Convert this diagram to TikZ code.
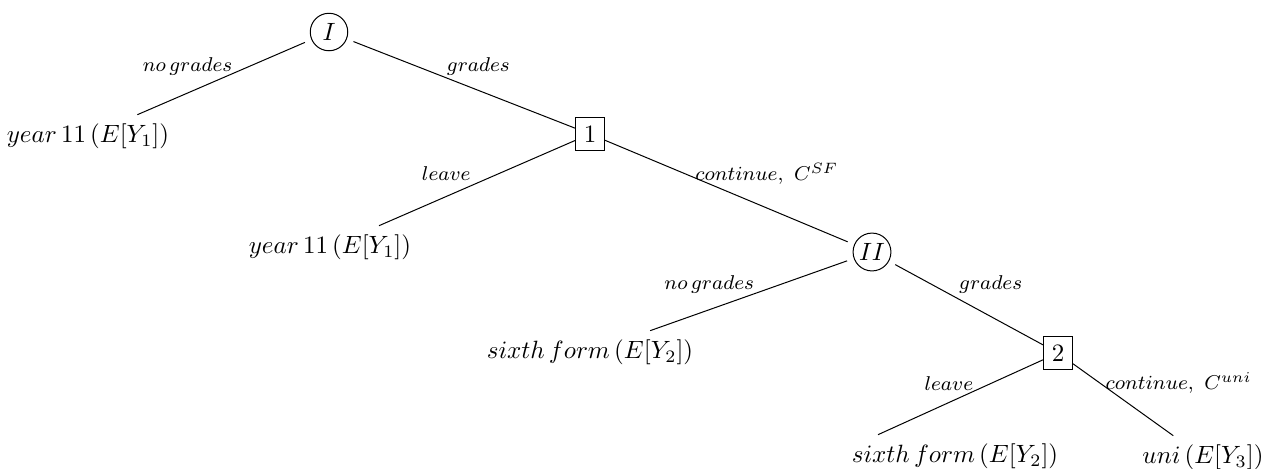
\documentclass[tikz,border=0pt]{standalone}
\begin{document}
\begin{tikzpicture}[x=0.4pt,y=-0.4pt,
        chance/.style={circle,draw,minimum size=15pt,inner sep=1pt,outer sep=3pt},
        choice/.style={rectangle,draw},
        lbl/.style={font=\footnotesize,inner sep=0pt}]
        \useasboundingbox (0,0) rectangle (1265,468);
        % decision and chance nodes
        \node[chance] (I) at (329,32) {$I$};
        \node[choice] (D1) at (590,134) {$1$};
        \node[chance] (II) at (872,252) {$II$};
        \node[choice] (D2) at (1058,353) {$2$};
        % outcomes
        \node (Y1a) at (88,136) {$year\,11\,(E[Y_1])$};
        \node (Y1b) at (330,247) {$year\,11\,(E[Y_1])$};
        \node (Y2a) at (590,352) {$sixth\,form\,(E[Y_2])$};
        \node (Y2b) at (955,456) {$sixth\,form\,(E[Y_2])$};
        \node (Y3) at (1203,457) {$uni\,(E[Y_3])$};
        \path (I) edge node[lbl,pos=.43,anchor=south east,yshift=-1pt] {$no\,grades$} (Y1a);
        \path (I) edge node[lbl,pos=.42,anchor=south west,yshift=1pt] {$grades$} (D1);
        \path (D1) edge node[lbl,pos=.53,anchor=south east,yshift=2pt] {$leave$} (Y1b);
        \path (D1) edge node[lbl,pos=.37,anchor=south west,yshift=-3pt] {$continue,\ C^{SF}$} (II);
        \path (II) edge node[lbl,pos=.47,anchor=south east] {$no\,grades$} (Y2a);
        \path (II) edge node[lbl,pos=.43,anchor=south west,yshift=2pt] {$grades$} (D2);
        \path (D2) edge node[lbl,pos=.42,anchor=south east] {$leave$} ([xshift=14pt]Y2b.north west);
        \path (D2) edge node[lbl,pos=.32,anchor=south west,yshift=-3pt] {$continue,\ C^{uni}$} (Y3);
\end{tikzpicture}
\end{document}
